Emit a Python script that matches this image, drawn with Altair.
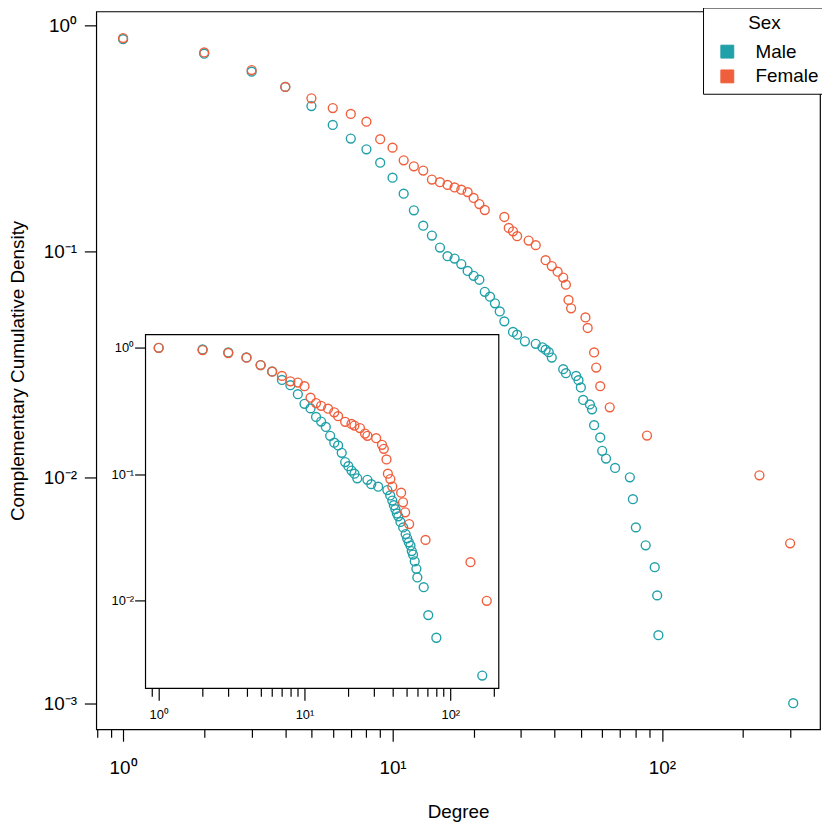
import altair as alt
import pandas as pd

# ---------------- data ----------------
SEXES = ["Male", "Female"]
COLORS = ["#20A0A8", "#F05F3C"]

main_male_degree = [1, 2, 3, 4, 5, 6, 7, 8, 9, 10, 11, 12, 13, 14, 15, 16, 17, 18, 19, 20,
                    21, 22, 23, 24, 25, 26, 28, 29, 31, 34, 36, 37, 38, 39, 43, 44, 48, 49, 50, 51,
                    54, 55, 56, 59, 60, 62, 67, 76, 78, 80, 87, 94, 96, 97, 307]
main_male_ccdf = [0.87, 0.75, 0.625, 0.535, 0.44, 0.363, 0.316, 0.283, 0.247, 0.212, 0.18, 0.152,
                  0.130, 0.1175, 0.104, 0.0952, 0.093, 0.0879, 0.0819, 0.078, 0.0749, 0.0662, 0.063,
                  0.0589, 0.0542, 0.049, 0.044, 0.0428, 0.040, 0.039, 0.0376, 0.0367, 0.0358, 0.0339,
                  0.0301, 0.0289, 0.0281, 0.0269, 0.025, 0.022, 0.021, 0.020, 0.017, 0.015, 0.0131,
                  0.0121, 0.011, 0.010, 0.008, 0.006, 0.005, 0.004, 0.003, 0.002, 0.001]

main_female_degree = [1, 2, 3, 4, 5, 6, 7, 8, 9, 10, 11, 12, 13, 14, 15, 16, 17, 18, 19, 20,
                      21, 22, 26, 27, 28, 29, 32, 34, 37, 39, 41, 43, 44, 45, 46, 52, 53, 56, 57, 59,
                      64, 88, 230, 299]
main_female_ccdf = [0.88, 0.76, 0.635, 0.535, 0.476, 0.431, 0.406, 0.375, 0.314, 0.288, 0.253, 0.238,
                    0.228, 0.208, 0.2025, 0.197, 0.192, 0.1876, 0.183, 0.1724, 0.162, 0.1525, 0.142,
                    0.127, 0.1227, 0.1167, 0.1117, 0.1066, 0.0914, 0.0861, 0.0813, 0.0766, 0.0712,
                    0.061, 0.056, 0.051, 0.0458, 0.0357, 0.0306, 0.0253, 0.0204, 0.0153, 0.0102, 0.0051]

inset_male_degree = [1, 2, 3, 4, 5, 6, 7, 8, 9, 10, 11, 12, 13, 14, 15, 16, 17, 18, 19, 20, 21, 22,
                     23, 27, 28.7, 32, 37, 38.7, 40, 41, 42, 43, 44, 45.5, 47.5, 49.4, 50.6, 51.9, 53.3,
                     54.4, 55.5, 57, 58.5, 59.4, 65.7, 70.6, 80.2, 165.6]
inset_male_ccdf = [1.0, 0.97, 0.92, 0.84, 0.73, 0.65, 0.557, 0.506, 0.43, 0.361, 0.332, 0.284, 0.261,
                   0.237, 0.2015, 0.1776, 0.169, 0.148, 0.125, 0.116, 0.107, 0.101, 0.093, 0.0905,
                   0.0836, 0.0798, 0.075, 0.068, 0.062, 0.057, 0.053, 0.049, 0.0465, 0.042, 0.038,
                   0.0337, 0.0312, 0.029, 0.0273, 0.0247, 0.0232, 0.0205, 0.0179, 0.0153, 0.0128,
                   0.0077, 0.0051, 0.00256]

inset_female_degree = [1, 2, 3, 4, 5, 6, 7, 8, 9, 10, 11, 12, 13, 14.5, 16, 17, 19, 21, 22, 24, 26, 27,
                       31, 34, 35, 36.5, 37.3, 38.8, 40, 46, 47.4, 49, 52.2, 67.6, 137.5, 177.8]
inset_female_ccdf = [1.0, 0.96, 0.91, 0.835, 0.73, 0.648, 0.6, 0.544, 0.531, 0.497, 0.403, 0.366,
                     0.348, 0.33, 0.309, 0.288, 0.26, 0.25, 0.243, 0.232, 0.21, 0.2015, 0.193, 0.171,
                     0.159, 0.131, 0.101, 0.0916, 0.080, 0.0716, 0.060, 0.050, 0.0404, 0.0303, 0.0202,
                     0.010]

main_major_x = [1, 10, 100]
main_minor_x = [0.8, 0.9, 2, 3, 4, 5, 6, 7, 8, 9, 20, 30, 40, 50, 60, 70, 80, 90, 200, 300]
main_major_y = [1, 0.1, 0.01, 0.001]
inset_major_x = [1, 10, 100]
inset_minor_x = [0.9, 2, 3, 4, 5, 6, 7, 8, 9, 20, 30, 40, 50, 60, 70, 80, 90, 200]
inset_major_y = [1, 0.1, 0.01]
power_labels = {2: "10²", 1: "10¹", 0: "10⁰", -1: "10⁻¹", -2: "10⁻²", -3: "10⁻³"}


def frame(deg_m, val_m, deg_f, val_f):
    a = pd.DataFrame({"Degree": deg_m, "Density": val_m, "Sex": "Male"})
    b = pd.DataFrame({"Degree": deg_f, "Density": val_f, "Sex": "Female"})
    return pd.concat([a, b], ignore_index=True)


main_df = frame(main_male_degree, main_male_ccdf, main_female_degree, main_female_ccdf)
inset_df = frame(inset_male_degree, inset_male_ccdf, inset_female_degree, inset_female_ccdf)
legend_df = pd.DataFrame({"Sex": SEXES})

e = "round(log(datum.value)/LN10)"
label_expr = ""
for p, s in power_labels.items():
    label_expr += f"{e}=={p}?'{s}':"
label_expr += "''"

# ---------------- layout ----------------
W, H = 730, 724
FONT = "Liberation Sans"
MAIN_X = [0.795, 386]
MAIN_Y = [0.000766, 1.154]
INS_X = [0.812, 215]
INS_Y = [0.00203, 1.27]
INS_L, INS_R, INS_T, INS_B = 49.7, 406, 326, 682.7

color_scale = alt.Scale(domain=SEXES, range=COLORS)
pt = dict(shape="circle", filled=False, size=80, strokeWidth=1.4, opacity=1)

main_x_scale = alt.Scale(type="log", domain=MAIN_X, nice=False, zero=False)
main_y_scale = alt.Scale(type="log", domain=MAIN_Y, nice=False, zero=False)
ins_x_scale = alt.Scale(type="log", domain=INS_X, nice=False, zero=False, range=[INS_L, INS_R])
ins_y_scale = alt.Scale(type="log", domain=INS_Y, nice=False, zero=False, range=[INS_B, INS_T])

# legend layer (first, so its legend settings win when layers are merged);
# its two squares sit outside the drawn page, only its legend shows
legend_layer = alt.Chart(legend_df).mark_square(
    filled=True, size=169, stroke="black", strokeWidth=1, opacity=1
).encode(
    x=alt.value(-400), y=alt.value(-400),
    color=alt.Color("Sex:N", scale=color_scale,
                    legend=alt.Legend(orient="none", legendX=612, legendY=-4, title="Sex",
                                      titleFontSize=19, titleFontWeight="normal",
                                      labelFontSize=19, symbolType="square", symbolSize=169,
                                      symbolStrokeWidth=1, symbolStrokeColor="black",
                                      symbolOpacity=1, strokeColor="black", fillColor="white",
                                      padding=7, titlePadding=9, rowPadding=5, labelOffset=19,
                                      symbolOffset=8, titleAnchor="middle")),
)

main_points = alt.Chart(main_df).mark_point(**pt).encode(
    x=alt.X("Degree:Q", scale=main_x_scale,
            axis=alt.Axis(values=main_major_x, orient="bottom", tickSize=12, labelFontSize=19,
                          labelPadding=18, labelExpr=label_expr, labelFlush=False,
                          labelOverlap=False, title="Degree", titleFontSize=19,
                          titleFontWeight="normal", titleY=89, titleBaseline="alphabetic")),
    y=alt.Y("Density:Q", scale=main_y_scale,
            axis=alt.Axis(values=main_major_y, orient="left", tickSize=12, labelFontSize=19,
                          labelPadding=8, labelExpr=label_expr, labelFlush=False,
                          labelOverlap=False, title="Complementary Cumulative Density",
                          titleFontSize=19, titleFontWeight="normal", titleX=-79,
                          titleBaseline="middle", titleAngle=-90)),
    color=alt.Color("Sex:N", scale=color_scale),
)

main_minor = alt.Chart(main_df).mark_point(opacity=0).encode(
    x=alt.X("Degree:Q", scale=main_x_scale,
            axis=alt.Axis(values=main_minor_x, orient="bottom", tickSize=8, labels=False,
                          title=None)),
)

inset_frame = alt.Chart(alt.Data(values=[{}])).mark_rect(
    fill="white", stroke="black", strokeWidth=1.2
).encode(x=alt.value(INS_L), x2=alt.value(INS_R), y=alt.value(INS_T), y2=alt.value(INS_B))

inset_points = alt.Chart(inset_df).mark_point(**pt).encode(
    x=alt.X("Degree:Q", scale=ins_x_scale,
            axis=alt.Axis(values=inset_major_x, orient="bottom", offset=-(H - INS_B), tickSize=12,
                          labelFontSize=13, labelPadding=8, labelExpr=label_expr,
                          labelFlush=False, labelOverlap=False, title=None)),
    y=alt.Y("Density:Q", scale=ins_y_scale,
            axis=alt.Axis(values=inset_major_y, orient="left", offset=-INS_L, tickSize=11,
                          labelFontSize=13, labelPadding=1, labelExpr=label_expr,
                          labelFlush=False, labelOverlap=False, title=None)),
    color=alt.Color("Sex:N", scale=color_scale),
)

inset_minor = alt.Chart(inset_df).mark_point(opacity=0).encode(
    x=alt.X("Degree:Q", scale=ins_x_scale,
            axis=alt.Axis(values=inset_minor_x, orient="bottom", offset=-(H - INS_B), tickSize=8,
                          labels=False, title=None)),
)

chart = alt.layer(
    legend_layer, main_points, main_minor, inset_frame, inset_points, inset_minor
).resolve_scale(x="independent", y="independent").properties(
    width=W, height=H,
    autosize=alt.AutoSizeParams(type="none"),
    padding={"left": 89, "top": 0, "right": 2, "bottom": 90},
).configure_view(stroke="black", strokeWidth=1.2).configure_axis(
    labelFont=FONT, titleFont=FONT, tickColor="black", labelColor="black", titleColor="black",
    tickWidth=1.2, grid=False, domain=False
).configure_legend(labelFont=FONT, titleFont=FONT, labelColor="black", titleColor="black")

chart.save("out.html", embed_options={"renderer": "svg", "actions": False})
